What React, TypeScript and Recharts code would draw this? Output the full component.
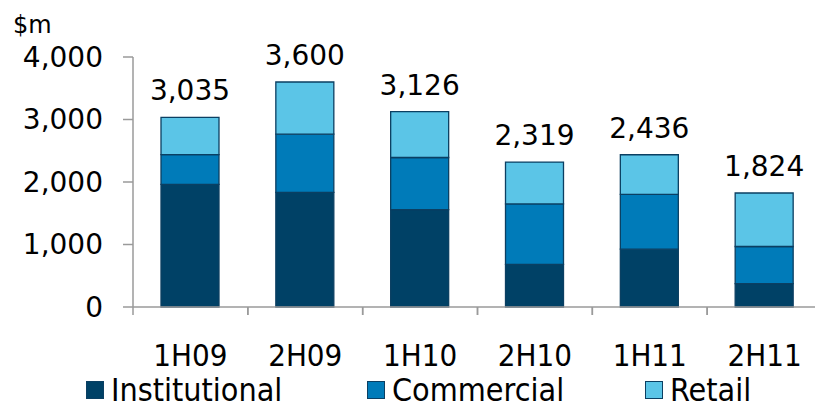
import React from "react";
import { BarChart, Bar, XAxis, YAxis, Legend, LabelList } from "recharts";

// ─── Data ──────────────────────────────────────────────────────────────────

const periods = ["1H09", "2H09", "1H10", "2H10", "1H11", "2H11"];
const institutional = [1963, 1834, 1558, 681, 925, 373];
const commercial = [474, 932, 834, 968, 877, 595];
const retail = [598, 834, 734, 670, 634, 856];
const totals = [3035, 3600, 3126, 2319, 2436, 1824];
const yTicks = [0, 1000, 2000, 3000, 4000];

const data = periods.map((period, i) => ({
  period,
  institutional: institutional[i],
  commercial: commercial[i],
  retail: retail[i],
  total: totals[i],
}));

// ─── Styles ────────────────────────────────────────────────────────────────

const FONT = "'DejaVu Sans', Verdana, sans-serif";
const FONT_COND = "'DejaVu Sans Condensed', 'DejaVu Sans', sans-serif";
const AXIS = "#9a9a9a";
const EDGE = "#0b3f62";

const series = [
  { key: "institutional", name: "Institutional", color: "#004166" },
  { key: "commercial", name: "Commercial", color: "#007bb9" },
  { key: "retail", name: "Retail", color: "#5bc5e7" },
];

const fmt = (v: number) => v.toLocaleString("en-US");

// x tick: condensed label plus Excel-style tick marks between categories
function PeriodTick(props: any) {
  const { x, y, payload, width, visibleTicksCount } = props;
  const half = width / (visibleTicksCount * 2);
  return (
    <g>
      <line x1={x - half} x2={x - half} y1={y - 8} y2={y} stroke={AXIS} strokeWidth={1.5} />
      <line x1={x + half} x2={x + half} y1={y - 8} y2={y} stroke={AXIS} strokeWidth={1.5} />
      <text
        x={x}
        y={y + 51}
        textAnchor="middle"
        fill="#000"
        style={{ fontFamily: FONT_COND, fontStretch: "condensed", fontSize: 31 }}
      >
        {payload.value}
      </text>
    </g>
  );
}

const legendLeft = [86, 367, 645];

function LegendContent() {
  return (
    <div style={{ position: "relative", height: 32, width: "100%" }}>
      {series.map((s, i) => (
        <div
          key={s.key}
          style={{
            position: "absolute",
            left: legendLeft[i],
            top: 0,
            height: 32,
            display: "flex",
            alignItems: "center",
          }}
        >
          <span
            style={{
              width: 16,
              height: 16,
              background: s.color,
              border: `1.5px solid ${EDGE}`,
              marginRight: 7,
            }}
          />
          <span
            style={{
              fontFamily: FONT_COND,
              fontStretch: "condensed",
              fontSize: 32,
              color: "#000",
              lineHeight: "32px",
            }}
          >
            {s.name}
          </span>
        </div>
      ))}
    </div>
  );
}

export default function App() {
  return (
    <div
      style={{
        position: "absolute",
        left: 0,
        top: 0,
        width: 815,
        height: 408,
        overflow: "hidden",
        background: "#fff",
        fontFamily: FONT,
      }}
    >
      <BarChart
        width={822}
        height={408}
        data={data}
        margin={{ top: 57, right: 0, left: 0, bottom: 2 }}
        barSize={58}
      >
        <XAxis
          dataKey="period"
          height={67}
          tickLine={false}
          tickSize={8}
          tickMargin={0}
          axisLine={{ stroke: AXIS, strokeWidth: 1.5 }}
          tick={<PeriodTick />}
          interval={0}
        />
        <YAxis
          width={133}
          domain={[0, 4000]}
          ticks={yTicks}
          tickFormatter={fmt}
          tickSize={10}
          tickMargin={20}
          axisLine={{ stroke: AXIS, strokeWidth: 1.5 }}
          tickLine={{ stroke: AXIS, strokeWidth: 1.5 }}
          tick={{ fill: "#000", fontSize: 28, fontFamily: FONT }}
          label={{
            content: (p: any) => (
              <text
                x={p.viewBox.x + 13}
                y={p.viewBox.y - 24}
                fill="#000"
                style={{ fontFamily: FONT, fontSize: 24 }}
              >
                $m
              </text>
            ),
          }}
        />
        <Legend verticalAlign="bottom" content={<LegendContent />} />
        {series.map((s, i) => (
          <Bar
            key={s.key}
            dataKey={s.key}
            name={s.name}
            stackId="a"
            fill={s.color}
            stroke={EDGE}
            strokeWidth={1.3}
            isAnimationActive={false}
          >
            {i === series.length - 1 && (
              <LabelList
                dataKey="total"
                position="top"
                offset={17}
                formatter={(v: any) => fmt(Number(v))}
                style={{ fill: "#000", fontSize: 28, fontFamily: FONT }}
              />
            )}
          </Bar>
        ))}
      </BarChart>
    </div>
  );
}
